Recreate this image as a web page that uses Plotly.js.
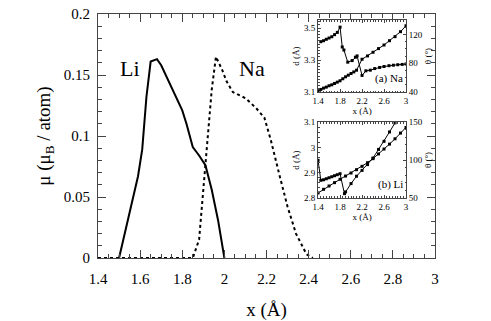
<!DOCTYPE html>
<html>
<head>
<meta charset="utf-8">
<script src="https://cdn.plot.ly/plotly-3.0.1.min.js"></script>
<style>
html,body{margin:0;padding:0;background:#fff;}
#chart{width:491px;height:321px;}
</style>
</head>
<body>
<div id="chart"></div>
<script>
// Main panel: magnetic moment vs interatomic distance
const liX = [1.50, 1.55, 1.59, 1.61, 1.63, 1.65, 1.68, 1.70, 1.75, 1.80, 1.82, 1.85, 1.88, 1.91, 1.94, 1.97, 2.00];
const liMu = [0, 0.037, 0.067, 0.089, 0.132, 0.161, 0.163, 0.158, 0.140, 0.121, 0.110, 0.091, 0.084, 0.076, 0.056, 0.031, 0];
const naX = [1.40, 1.45, 1.50, 1.55, 1.60, 1.65, 1.70, 1.75, 1.80, 1.85, 1.88, 1.90, 1.92, 1.94, 1.96, 1.99, 2.01, 2.04, 2.10, 2.15, 2.19, 2.22, 2.26, 2.30, 2.34, 2.39, 2.42];
const naMu = [0, 0, 0, 0, 0, 0, 0, 0, 0, 0, 0.015, 0.056, 0.097, 0.138, 0.165, 0.154, 0.145, 0.136, 0.131, 0.123, 0.115, 0.097, 0.069, 0.042, 0.020, 0.003, 0];

// Inset (a) Na
const naDX = [1.45, 1.50, 1.55, 1.60, 1.65, 1.70, 1.75, 1.80, 1.84, 1.87, 1.94, 2.02, 2.08, 2.11, 2.20, 2.27, 2.35, 2.43, 2.52, 2.60, 2.69, 2.77, 2.85, 2.93, 3.00];
const naD = [3.415, 3.421, 3.430, 3.438, 3.446, 3.459, 3.473, 3.506, 3.382, 3.363, 3.287, 3.297, 3.318, 3.326, 3.204, 3.233, 3.237, 3.247, 3.254, 3.260, 3.265, 3.268, 3.271, 3.273, 3.275];
const naTX = [1.40, 1.45, 1.50, 1.55, 1.60, 1.65, 1.70, 1.75, 1.80, 1.85, 1.90, 1.95, 2.00, 2.05, 2.10, 2.20, 2.30, 2.40, 2.50, 2.60, 2.70, 2.80, 2.90, 3.00];
const naTheta = [41.8, 43.7, 45.5, 46.9, 48.8, 50.1, 52.0, 53.8, 55.7, 58.5, 61.2, 63.5, 65.8, 68.0, 70.4, 85.6, 90.2, 95.3, 100.4, 105.4, 111.4, 117.0, 123.9, 132.2];

// Inset (b) Li
const liDX = [1.40, 1.45, 1.50, 1.55, 1.60, 1.65, 1.70, 1.75, 1.80, 1.88, 1.90, 2.00, 2.10, 2.20, 2.30, 2.40, 2.50, 2.60, 2.70, 2.80];
const liD = [2.949, 2.870, 2.872, 2.876, 2.880, 2.884, 2.888, 2.892, 2.896, 2.817, 2.824, 2.857, 2.886, 2.909, 2.932, 2.958, 2.992, 3.024, 3.061, 3.097];
const liTX = [1.40, 1.50, 1.60, 1.70, 1.80, 1.90, 2.00, 2.10, 2.20, 2.30, 2.40, 2.50, 2.60, 2.70, 2.80, 2.90, 3.00];
const liTheta = [56.6, 61.4, 65.8, 70.2, 74.6, 78.9, 82.9, 87.3, 91.7, 96.5, 101.8, 108.0, 114.5, 121.0, 128.0, 135.5, 143.0];

const serif = 'Liberation Serif, Times New Roman, serif';
const axCol = '#444';

const traces = [
  {x: liX, y: liMu, mode: 'lines', line: {color: '#000', width: 2}, xaxis: 'x', yaxis: 'y', name: 'Li'},
  {x: naX, y: naMu, mode: 'lines', line: {color: '#000', width: 2, dash: 'dot'}, xaxis: 'x', yaxis: 'y', name: 'Na'},
  {x: naDX, y: naD, mode: 'lines+markers', line: {color: '#000', width: 1}, marker: {size: 3, color: '#000', symbol: 'square'}, xaxis: 'x2', yaxis: 'y2'},
  {x: naTX, y: naTheta, mode: 'lines+markers', line: {color: '#000', width: 1}, marker: {size: 3, color: '#000', symbol: 'square'}, xaxis: 'x2', yaxis: 'y3'},
  {x: liDX, y: liD, mode: 'lines+markers', line: {color: '#000', width: 1}, marker: {size: 3, color: '#000', symbol: 'square'}, xaxis: 'x3', yaxis: 'y4'},
  {x: liTX, y: liTheta, mode: 'lines+markers', line: {color: '#000', width: 1}, marker: {size: 3, color: '#000', symbol: 'square'}, xaxis: 'x3', yaxis: 'y5'}
];

const insetX = [0.653, 0.914];
const naDom = [0.68, 0.975];
const liDom = [0.246, 0.557];

function insetAxis(extra) {
  return Object.assign({
    showline: true, linecolor: axCol, linewidth: 1, showgrid: false, zeroline: false,
    ticks: 'inside', ticklen: 3, tickcolor: axCol,
    tickfont: {family: serif, size: 9, color: '#000'}
  }, extra);
}

const layout = {
  width: 491, height: 321,
  margin: {l: 98, r: 56, t: 14, b: 63},
  paper_bgcolor: '#fff', plot_bgcolor: '#fff',
  showlegend: false,
  font: {family: serif, color: '#000'},
  xaxis: {
    range: [1.4, 3], tick0: 1.4, dtick: 0.2, ticks: 'inside', ticklen: 8, tickcolor: axCol,
    minor: {dtick: 0.05, ticklen: 4, ticks: 'inside', tickcolor: axCol},
    showline: true, linecolor: axCol, mirror: 'ticks', showgrid: false, zeroline: false,
    ticklabelstandoff: 7,
    tickfont: {family: serif, size: 15, color: '#000'},
    title: {text: 'x (Å)', font: {family: serif, size: 19, color: '#000'}, standoff: 16}
  },
  yaxis: {
    range: [0, 0.2], tick0: 0, dtick: 0.05, ticks: 'inside', ticklen: 8, tickcolor: axCol,
    minor: {dtick: 0.01, ticklen: 4, ticks: 'inside', tickcolor: axCol},
    showline: true, linecolor: axCol, mirror: 'ticks', showgrid: false, zeroline: false,
    ticklabelstandoff: 4,
    tickfont: {family: serif, size: 15, color: '#000'},
    title: {text: 'μ (μ<sub>B</sub> / atom)', font: {family: serif, size: 19, color: '#000'}, standoff: 8}
  },
  xaxis2: insetAxis({
    domain: insetX, anchor: 'y2', range: [1.4, 3], tick0: 1.4, dtick: 0.4, mirror: 'ticks',
    minor: {dtick: 0.05, ticklen: 1.5, ticks: 'inside', tickcolor: axCol},
    title: {text: 'x (Å)', font: {family: serif, size: 9}, standoff: 1}
  }),
  yaxis2: insetAxis({
    domain: naDom, anchor: 'x2', range: [3.1, 3.55], tick0: 3.1, dtick: 0.2,
    minor: {dtick: 0.02, ticklen: 1.5, ticks: 'inside', tickcolor: axCol},
    title: {text: 'd (Å)', font: {family: serif, size: 9}, standoff: 2}
  }),
  yaxis3: insetAxis({
    domain: naDom, anchor: 'x2', overlaying: 'y2', side: 'right', range: [40, 140], tick0: 40, dtick: 40,
    minor: {dtick: 10, ticklen: 1.5, ticks: 'inside', tickcolor: axCol},
    title: {text: 'θ (°)', font: {family: serif, size: 9}, standoff: 2}
  }),
  xaxis3: insetAxis({
    domain: insetX, anchor: 'y4', range: [1.4, 3], tick0: 1.4, dtick: 0.4, mirror: 'ticks',
    minor: {dtick: 0.05, ticklen: 1.5, ticks: 'inside', tickcolor: axCol},
    title: {text: 'x (Å)', font: {family: serif, size: 9}, standoff: 1}
  }),
  yaxis4: insetAxis({
    domain: liDom, anchor: 'x3', range: [2.8, 3.1], tick0: 2.8, dtick: 0.1,
    minor: {dtick: 0.02, ticklen: 1.5, ticks: 'inside', tickcolor: axCol},
    title: {text: 'd (Å)', font: {family: serif, size: 9}, standoff: 2}
  }),
  yaxis5: insetAxis({
    domain: liDom, anchor: 'x3', overlaying: 'y4', side: 'right', range: [50, 150], tick0: 50, dtick: 50,
    minor: {dtick: 10, ticklen: 1.5, ticks: 'inside', tickcolor: axCol},
    title: {text: 'θ (°)', font: {family: serif, size: 9}, standoff: 2}
  }),
  annotations: [
    {text: 'Li', x: 1.55, y: 0.155, xref: 'x', yref: 'y', showarrow: false, font: {family: serif, size: 22, color: '#000'}},
    {text: 'Na', x: 2.13, y: 0.155, xref: 'x', yref: 'y', showarrow: false, font: {family: serif, size: 22, color: '#000'}},
    {text: '(a) Na', x: 2.98, y: 3.13, xref: 'x2', yref: 'y2', xanchor: 'right', yanchor: 'bottom', showarrow: false, font: {family: serif, size: 11, color: '#000'}},
    {text: '(b) Li', x: 2.98, y: 2.82, xref: 'x3', yref: 'y4', xanchor: 'right', yanchor: 'bottom', showarrow: false, font: {family: serif, size: 11, color: '#000'}}
  ]
};

Plotly.newPlot('chart', traces, layout, {displayModeBar: false, staticPlot: true});
</script>
</body>
</html>
